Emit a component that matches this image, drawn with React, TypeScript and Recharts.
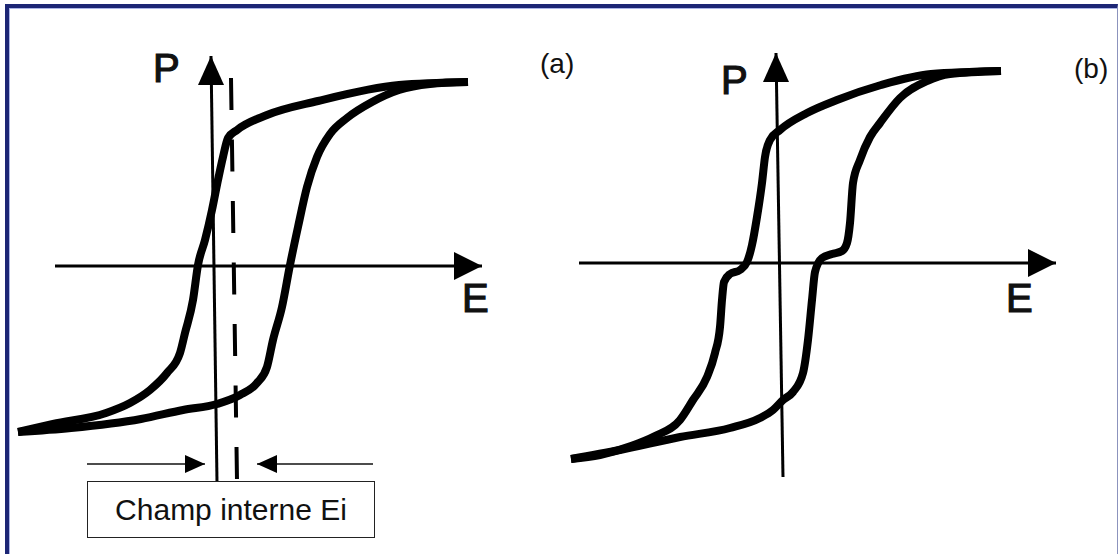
import { LineChart, Line, XAxis, YAxis } from "recharts";

// Hysteresis P(E), panel (a): internal field shifts the loop
const upperA = [
  { e: -19.6, p: -16.6 }, { e: -16.1, p: -15.8 }, { e: -10.8, p: -14.7 },
  { e: -8.4, p: -13.7 }, { e: -6.4, p: -12.4 }, { e: -4.7, p: -10.7 },
  { e: -3.4, p: -8.7 }, { e: -2.9, p: -6.7 }, { e: -2.1, p: -3.4 },
  { e: -1.6, p: 0.1 }, { e: -0.9, p: 2.6 }, { e: -0.2, p: 5.6 },
  { e: 0.4, p: 8.6 }, { e: 0.9, p: 10.9 }, { e: 1.4, p: 12.8 },
  { e: 2.3, p: 13.6 }, { e: 5.3, p: 15.1 }, { e: 10.4, p: 16.5 },
  { e: 18.5, p: 18.1 }, { e: 25.4, p: 18.4 },
];
const lowerA = [
  { e: -19.6, p: -16.6 }, { e: -14.3, p: -16.2 }, { e: -7.3, p: -15.3 },
  { e: -3.1, p: -14.4 }, { e: 0.3, p: -13.8 }, { e: 2.6, p: -12.9 },
  { e: 4.3, p: -11.7 }, { e: 5.3, p: -10.1 }, { e: 5.9, p: -7.4 },
  { e: 6.8, p: -4.1 }, { e: 7.6, p: 0.1 }, { e: 8.4, p: 3.9 },
  { e: 9.3, p: 7.9 }, { e: 10.3, p: 10.9 }, { e: 11.6, p: 13.2 },
  { e: 13.3, p: 14.8 }, { e: 15.8, p: 16.4 }, { e: 18.5, p: 17.6 },
  { e: 21.6, p: 18.2 }, { e: 25.4, p: 18.4 },
];

// panel (b): pinched / double loop
const upperB = [
  { e: -20.8, p: -19.6 }, { e: -17.9, p: -19.2 }, { e: -14.8, p: -18.3 },
  { e: -12.4, p: -17.3 }, { e: -9.9, p: -15.7 }, { e: -8.6, p: -13.7 },
  { e: -7.2, p: -11.4 }, { e: -6.4, p: -9.0 }, { e: -5.9, p: -6.4 },
  { e: -5.7, p: -3.7 }, { e: -5.5, p: -1.9 }, { e: -4.9, p: -1.1 },
  { e: -3.9, p: -0.7 }, { e: -3.2, p: 0.1 }, { e: -2.7, p: 1.8 },
  { e: -2.2, p: 4.6 }, { e: -1.7, p: 8.0 }, { e: -1.4, p: 10.6 },
  { e: -0.9, p: 12.3 }, { e: 0.1, p: 13.3 }, { e: 2.8, p: 15.0 },
  { e: 5.8, p: 16.3 }, { e: 10.2, p: 17.8 }, { e: 15.2, p: 18.9 },
  { e: 22.2, p: 19.2 },
];
const lowerB = [
  { e: -20.8, p: -19.6 }, { e: -15.9, p: -18.7 }, { e: -9.9, p: -17.4 },
  { e: -4.9, p: -16.5 }, { e: -1.9, p: -15.5 }, { e: -0.6, p: -14.7 },
  { e: 0.4, p: -13.7 }, { e: 1.4, p: -12.9 }, { e: 2.4, p: -11.0 },
  { e: 2.9, p: -7.7 }, { e: 3.3, p: -3.7 }, { e: 3.6, p: -0.9 },
  { e: 4.3, p: 0.5 }, { e: 5.3, p: 0.9 }, { e: 6.3, p: 1.2 },
  { e: 6.8, p: 2.0 }, { e: 7.1, p: 4.0 }, { e: 7.4, p: 8.0 },
  { e: 8.1, p: 10.3 }, { e: 9.1, p: 12.6 }, { e: 10.1, p: 14.0 },
  { e: 12.1, p: 16.5 }, { e: 14.8, p: 18.2 }, { e: 17.1, p: 18.9 },
  { e: 22.2, p: 19.2 },
];

// axes and markers
const eAxisA = [{ e: -15.9, p: 0 }, { e: 26.8, p: 0 }];
const pAxisA = [{ e: 0.3, p: -21.6 }, { e: -0.3, p: 21.0 }];
const internalFieldA = [{ e: 1.7, p: 18.8 }, { e: 2.3, p: -21.4 }];
const leftArrowA = [{ e: -12.7, p: -19.8 }, { e: -0.9, p: -19.8 }];
const rightArrowA = [{ e: 15.9, p: -19.8 }, { e: 4.3, p: -19.8 }];

const eAxisB = [{ e: -20.0, p: 0 }, { e: 27.7, p: 0 }];
const pAxisB = [{ e: 0.4, p: -21.4 }, { e: -0.3, p: 21.0 }];

const FONT = '"Liberation Sans", Arial, sans-serif';

type Dir = "up" | "right" | "left";

function arrowHead(dir: Dir, len: number, half: number, last: number) {
  return (props: any) => {
    const { cx, cy, index } = props;
    if (index !== last) return <g key={`d${index}`} />;
    let pts = "";
    if (dir === "up") pts = `${cx},${cy} ${cx - half},${cy + len} ${cx + half},${cy + len}`;
    if (dir === "right") pts = `${cx},${cy} ${cx - len},${cy - half} ${cx - len},${cy + half}`;
    if (dir === "left") pts = `${cx},${cy} ${cx + len},${cy - half} ${cx + len},${cy + half}`;
    return <polygon key={`d${index}`} points={pts} fill="#000" />;
  };
}

function label(text: string, left: number, top: number, size: number, thick = false) {
  return (
    <div
      style={{
        position: "absolute",
        left,
        top,
        fontSize: size,
        lineHeight: `${size}px`,
        fontFamily: FONT,
        color: "#111",
        whiteSpace: "nowrap",
        WebkitTextStroke: thick ? "1.2px #111" : undefined,
      }}
    >
      {text}
    </div>
  );
}

const loopProps = {
  dataKey: "p",
  type: "monotoneX" as const,
  stroke: "#000",
  strokeWidth: 8,
  dot: false,
  activeDot: false,
  isAnimationActive: false,
};

function Panel(props: {
  left: number;
  eDomain: [number, number];
  pDomain: [number, number];
  upper: any[];
  lower: any[];
  eAxis: any[];
  pAxis: any[];
  withField?: boolean;
}) {
  const { left, eDomain, pDomain, upper, lower, eAxis, pAxis, withField } = props;
  return (
    <div style={{ position: "absolute", left, top: 0 }}>
      <LineChart width={560} height={554} margin={{ top: 0, right: 0, bottom: 0, left: 0 }}>
        <XAxis type="number" dataKey="e" domain={eDomain} hide allowDataOverflow />
        <YAxis type="number" domain={pDomain} hide allowDataOverflow />
        {withField && (
          <Line
            data={internalFieldA}
            dataKey="p"
            type="linear"
            stroke="#000"
            strokeWidth={4}
            strokeDasharray="32 29.5"
            dot={false}
            activeDot={false}
            isAnimationActive={false}
          />
        )}
        <Line
          data={eAxis}
          dataKey="p"
          type="linear"
          stroke="#000"
          strokeWidth={3}
          dot={arrowHead("right", 28, 14, 1)}
          activeDot={false}
          isAnimationActive={false}
        />
        <Line
          data={pAxis}
          dataKey="p"
          type="linear"
          stroke="#000"
          strokeWidth={3}
          dot={arrowHead("up", 29, 13, 1)}
          activeDot={false}
          isAnimationActive={false}
        />
        {withField && (
          <Line
            data={leftArrowA}
            dataKey="p"
            type="linear"
            stroke="#111"
            strokeWidth={1.5}
            dot={arrowHead("right", 20, 9, 1)}
            activeDot={false}
            isAnimationActive={false}
          />
        )}
        {withField && (
          <Line
            data={rightArrowA}
            dataKey="p"
            type="linear"
            stroke="#111"
            strokeWidth={1.5}
            dot={arrowHead("left", 20, 9, 1)}
            activeDot={false}
            isAnimationActive={false}
          />
        )}
        <Line data={upper} {...loopProps} />
        <Line data={lower} {...loopProps} />
      </LineChart>
    </div>
  );
}

export default function App() {
  return (
    <div
      style={{
        position: "absolute",
        left: 0,
        top: 0,
        width: 1120,
        height: 554,
        overflow: "hidden",
        background: "#fff",
        fontFamily: FONT,
      }}
    >
      <div
        style={{
          position: "absolute",
          left: 5,
          top: 4,
          width: 1108,
          height: 600,
          borderLeft: "4px solid #1c2675",
          borderTop: "4px solid #1c2675",
          borderRight: "1.5px solid #8c93bd",
          boxShadow: "inset 1px 1px 0 #aab4e6",
        }}
      />
      <Panel
        left={0}
        eDomain={[-21.4, 34.6]}
        pDomain={[-28.8, 26.6]}
        upper={upperA}
        lower={lowerA}
        eAxis={eAxisA}
        pAxis={pAxisA}
        withField
      />
      <Panel
        left={560}
        eDomain={[-21.9, 34.1]}
        pDomain={[-29.1, 26.3]}
        upper={upperB}
        lower={lowerB}
        eAxis={eAxisB}
        pAxis={pAxisB}
      />
      {label("P", 153, 48, 40, true)}
      {label("E", 462, 278, 40, true)}
      {label("(a)", 540, 50, 28)}
      {label("P", 721, 60, 40, true)}
      {label("E", 1006, 278, 40, true)}
      {label("(b)", 1074, 55, 28)}
      <div
        style={{
          position: "absolute",
          left: 87,
          top: 481,
          width: 288,
          height: 57,
          boxSizing: "border-box",
          border: "1.5px solid #222",
          display: "flex",
          alignItems: "center",
          justifyContent: "center",
          fontSize: 30,
          color: "#111",
          background: "#fff",
        }}
      >
        Champ interne Ei
      </div>
    </div>
  );
}
